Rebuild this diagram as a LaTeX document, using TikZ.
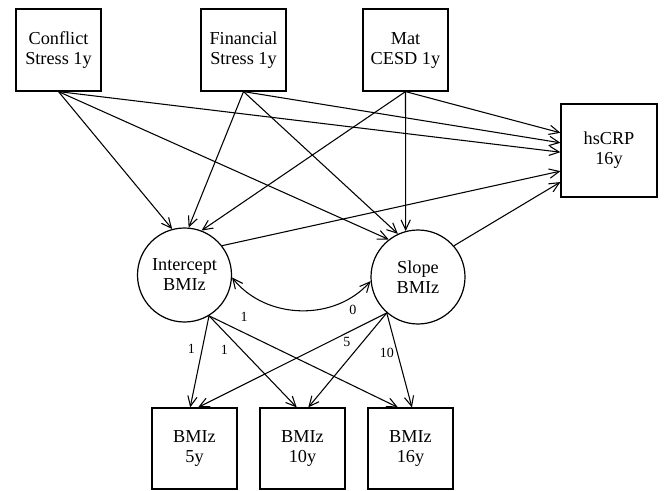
\documentclass[tikz,border=0pt]{standalone}
\usepackage{fontspec}
\setmainfont{Liberation Serif}
\usetikzlibrary{arrows.meta}
\begin{document}
\begin{tikzpicture}[x=0.75pt,y=0.75pt,
  box/.style={draw, line width=0.9pt, minimum width=63.75pt, minimum height=61.5pt,
    align=center, inner sep=0pt, font=\fontsize{13.7}{15}\selectfont},
  lat/.style={draw, circle, line width=0.9pt, minimum size=70.5pt, inner sep=0pt,
    align=center, font=\fontsize{13.7}{15}\selectfont},
  arr/.style={line width=0.8pt, -{Straight Barb[length=7.5pt,width=7pt]}},
  dbl/.style={line width=0.8pt, {Straight Barb[length=7.5pt,width=7pt]}-{Straight Barb[length=7.5pt,width=7pt]}},
  lbl/.style={font=\fontsize{10.5}{12}\selectfont, inner sep=0pt}]
\useasboundingbox (0,0) rectangle (664,490);
\node[box] (conf) at (58.5,440) {Conflict\\Stress 1y};
\node[box] (fin) at (243.5,440) {Financial\\Stress 1y};
\node[box] (mat) at (405.5,440) {Mat\\CESD 1y};
\node[box, minimum width=72pt, minimum height=69.75pt] (crp) at (609,339.5) {hsCRP\\16y};
\node[lat] (int) at (184.5,215) {Intercept\\BMIz};
\node[lat] (slo) at (418,213) {Slope\\BMIz};
\node[box, minimum height=60.75pt] (b5) at (194.5,41.5) {BMIz\\5y};
\node[box, minimum height=60.75pt] (b10) at (302.5,41.5) {BMIz\\10y};
\node[box, minimum height=60.75pt] (b16) at (410.5,41.5) {BMIz\\16y};
\draw[arr] (conf.south) -- (int.105);
\draw[arr] (fin.south) -- (int.85);
\draw[arr] (mat.south) -- (int.69);
\draw[arr] (conf.south) -- (slo.128);
\draw[arr] (fin.south) -- (slo.115);
\draw[arr] (mat.south) -- (slo.105);
\draw[arr] (conf.south) -- (crp.182);
\draw[arr] (fin.south) -- (crp.171);
\draw[arr] (mat.south) -- (crp.160);
\draw[arr] (int.38) -- (crp.203);
\draw[arr] (slo.41) -- (crp.213);
\draw[dbl] (int.-3) to[bend right=50] (slo.185);
\draw[arr] (int.301) -- node[lbl,pos=0.356,xshift=-8.2pt]{1} (b5.96);
\draw[arr] (int.301) -- node[lbl,pos=0.367,xshift=-12.7pt]{1} (b10.98);
\draw[arr] (int.301) -- node[lbl,pos=0.186,yshift=12pt]{1} (b16.107);
\draw[arr] (slo.229) -- node[lbl,pos=0.18,yshift=15pt]{0} (b5.85);
\draw[arr] (slo.229) -- node[lbl,pos=0.309,xshift=-11.7pt]{5} (b10.82);
\draw[arr] (slo.229) -- node[lbl,pos=0.426,xshift=-8pt]{10} (b16.88);
\end{tikzpicture}
\end{document}
